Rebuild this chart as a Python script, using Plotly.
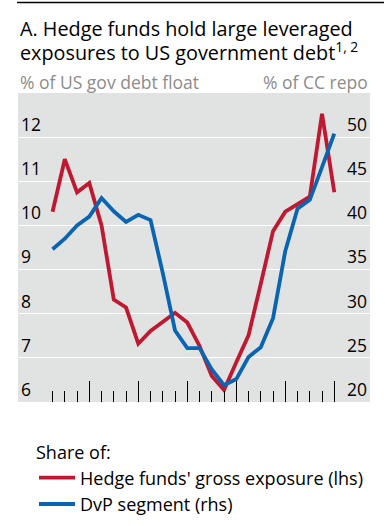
import plotly.graph_objects as go

# ---- data (quarter-end positions) ----
quarters = [2019.25, 2019.5, 2019.75, 2020.0, 2020.25, 2020.5, 2020.75, 2021.0,
            2021.25, 2021.5, 2021.75, 2022.0, 2022.25, 2022.5, 2022.75, 2023.0,
            2023.25, 2023.5, 2023.75, 2024.0, 2024.25, 2024.5, 2024.75, 2025.0]
hedge_funds = [10.31, 11.50, 10.75, 10.96, 10.00, 8.32, 8.14, 7.32,
               7.61, 7.82, 8.02, 7.80, 7.27, 6.59, 6.27, 6.90,
               7.51, 8.68, 9.87, 10.31, 10.48, 10.65, 12.53, 10.75]
dvp_segment = [37.3, 38.5, 40.0, 41.0, 43.1, 41.6, 40.4, 41.2,
               40.6, 34.6, 28.1, 26.1, 26.1, 23.7, 21.9, 22.6,
               25.1, 26.2, 29.5, 37.1, 41.9, 42.9, 46.6, 50.4]
year_label_pos = [2019.5, 2020.5, 2021.5, 2022.5, 2023.5, 2024.5]
year_labels = ["19", "20", "21", "22", "23", "24"]
year_bounds = [2020, 2021, 2022, 2023, 2024, 2025]
grid_years = [2020, 2021, 2022, 2023, 2024]
lhs_ticks = [6, 7, 8, 9, 10, 11, 12]
rhs_ticks = [20, 25, 30, 35, 40, 45, 50]

RED = "#BF1931"
BLUE = "#0A64B2"
BG = "#E1E2E2"
FONT = "Open Sans"

W, H = 385, 526
PLOT_L, PLOT_R, PLOT_T, PLOT_B = 18, 370, 93, 402   # plot area in pixels


def py(px):
    return 1 - px / H


def pxp(px):
    return px / W


XR = [2018.545, 2025.729]

fig = go.Figure()
fig.add_trace(go.Scatter(x=quarters, y=hedge_funds, mode="lines",
                         name="Hedge funds' gross exposure (lhs)",
                         line=dict(color=RED, width=3.8), xaxis="x", yaxis="y"))
fig.add_trace(go.Scatter(x=quarters, y=dvp_segment, mode="lines",
                         name="DvP segment (rhs)",
                         line=dict(color=BLUE, width=3.8), xaxis="x", yaxis="y2"))

fig.update_layout(
    width=W, height=H,
    margin=dict(l=0, r=0, t=0, b=0, pad=0, autoexpand=False),
    paper_bgcolor="white", plot_bgcolor=BG,
    font=dict(family=FONT, size=17, color="black"),
    xaxis=dict(domain=[pxp(PLOT_L), pxp(PLOT_R)],
               range=XR, tickmode="array", tickvals=year_bounds, ticks="inside",
               ticklen=21, tickwidth=1, tickcolor="black", showticklabels=False,
               showgrid=False, zeroline=False, showline=False,
               minor=dict(tickmode="array",
                          tickvals=[q for q in quarters if q not in year_bounds],
                          ticks="inside", ticklen=11, tickwidth=1,
                          tickcolor="black", showgrid=False)),
    xaxis2=dict(range=XR, overlaying="x", anchor="y", side="bottom",
                tickmode="array", tickvals=year_label_pos, ticktext=year_labels,
                ticks="", showgrid=False, zeroline=False, showline=False,
                ticklabelstandoff=19,
                tickfont=dict(size=17.5, color="black"),
                minor=dict(tickmode="array", tickvals=grid_years, ticks="",
                           showgrid=True, gridcolor="white", gridwidth=1)),
    yaxis=dict(domain=[py(PLOT_B), py(PLOT_T)],
               range=[6, 13], tickmode="array", tickvals=lhs_ticks,
               ticklabelposition="inside top", showgrid=True, gridcolor="white",
               gridwidth=1, zeroline=False, showline=False, ticks="",
               tickfont=dict(size=17.5, color="black")),
    yaxis2=dict(range=[20, 55], tickmode="array", tickvals=rhs_ticks,
                overlaying="y", side="right", anchor="x",
                ticklabelposition="inside top", showgrid=False, zeroline=False,
                showline=False, ticks="", tickfont=dict(size=17.5, color="black")),
    showlegend=True,
    legend=dict(xref="container", yref="container", x=34 / W, xanchor="left",
                y=1 - 436 / H, yanchor="top",
                orientation="v", bgcolor="rgba(0,0,0,0)",
                title=dict(text="Share of:", font=dict(size=18)),
                font=dict(size=18), tracegroupgap=0, itemwidth=36),
    shapes=[dict(type="line", xref="paper", yref="paper", layer="above",
                 x0=pxp(17), x1=pxp(384), y0=py(2.5), y1=py(2.5),
                 line=dict(color="black", width=1.3))],
)

# top rule also drawn as a thin filled annotation box
fig.add_annotation(text=" ", xref="paper", yref="paper", x=pxp(17), y=py(2),
                   xanchor="left", yanchor="middle", showarrow=False,
                   width=367, height=1, borderpad=0, borderwidth=0,
                   bgcolor="black", font=dict(size=1, color="black"))

# Title, unit labels
fig.add_annotation(text="A. Hedge funds hold large leveraged", xref="paper", yref="paper",
                   x=pxp(PLOT_L), y=py(28), xanchor="left", yanchor="middle",
                   showarrow=False, font=dict(size=19.8, color="black"))
fig.add_annotation(text="exposures to US government debt<sup>1, 2</sup>", xref="paper",
                   yref="paper", x=pxp(PLOT_L), y=py(51), xanchor="left",
                   yanchor="middle", showarrow=False, font=dict(size=19.8, color="black"))
fig.add_annotation(text="% of US gov debt float", xref="paper", yref="paper",
                   x=pxp(PLOT_L), y=py(82), xanchor="left", yanchor="middle",
                   showarrow=False, font=dict(size=17.5, color="#8C8C8C"))
fig.add_annotation(text="% of CC repo", xref="paper", yref="paper",
                   x=pxp(PLOT_R), y=py(82), xanchor="right", yanchor="middle",
                   showarrow=False, font=dict(size=17.5, color="#8C8C8C"))

fig.write_html("out.html", config={"displayModeBar": False},
               post_script="document.body.style.margin='0px';")
